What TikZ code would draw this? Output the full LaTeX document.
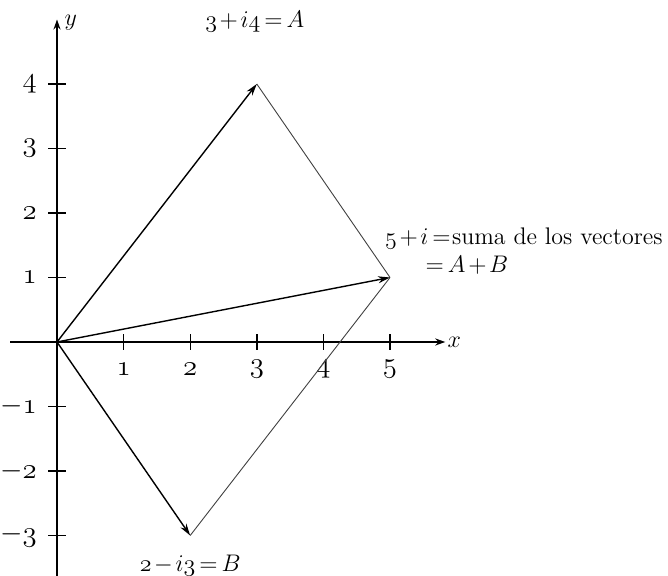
\documentclass[tikz,border=0pt]{standalone}
\usetikzlibrary{arrows.meta}
\newcommand{\tp}{\mathbin{\mkern-2mu+\mkern-2mu}}
\newcommand{\tm}{\mathbin{\mkern-2mu-\mkern-2mu}}
\newcommand{\te}{\mathrel{\mkern-2mu=\mkern-2mu}}
\begin{document}
\begin{tikzpicture}[x=33.3pt,y=32.25pt,
  axis/.style={line width=0.9pt,-{Stealth[length=5pt,width=3.5pt]}},
  vec/.style={line width=0.7pt,-{Stealth[length=6pt,width=3.5pt]}},
  side/.style={line width=0.45pt,black!75},
  tick/.style={line width=0.7pt},
  num/.style={font=\Large},
  lab/.style={font=\large}]
\useasboundingbox (-0.856,-3.628) rectangle (9.174,5.302);
% axes
\coordinate (xl) at (-0.7,0);
\coordinate (xr) at (5.83,0);
\coordinate (yb) at (0,-3.7);
\coordinate (yt) at (0,5.0);
\draw[axis] (xl) -- (xr);
\draw[axis] (yb) -- (yt);
\node[lab,anchor=west,inner sep=1pt] (xlab) at (xr) {$x$};
\node[lab,anchor=west,inner sep=1pt] (ylab) at (0.08,4.95) {$y$};
% ticks
\foreach \i in {1,...,5}{
  \draw[tick] (\i,-0.12) -- (\i,0.12);
  \node[num] (xn\i) at (\i,-0.42) {$\mathnormal{\i}$};
}
\foreach \j in {-3,-2,-1,1,2,3,4}{
  \draw[tick] (-0.13,\j) -- (0.13,\j);
}
\foreach \j in {1,2,3,4}{
  \node[num,anchor=east] (yn\j) at (-0.2,\j) {$\mathnormal{\j}$};
}
\foreach \j in {1,2,3}{
  \node[num,anchor=east] (ynm\j) at (-0.2,-\j) {$-\mathnormal{\j}$};
}
% points
\coordinate (O) at (0,0);
\coordinate (A) at (3,4);
\coordinate (B) at (2,-3);
\coordinate (S) at (5,1);
% parallelogram sides
\draw[side] (A) -- (S);
\draw[side] (B) -- (S);
% vectors
\draw[vec] (O) -- (A);
\draw[vec] (O) -- (B);
\draw[vec] (O) -- (S);
% labels
\node[lab] (la) at (2.97,4.96) {$\mathnormal{3}\tp i\mathnormal{4}\te A$};
\node[lab,anchor=west,inner sep=0pt] (ls1) at (4.92,1.61) {$\mathnormal{5}\tp i\te\,$suma de los vectores};
\node[lab,anchor=west,inner sep=0pt] (ls2) at (5.57,1.19) {$\te A\tp B$};
\node[lab] (lb) at (2.0,-3.46) {$\mathnormal{2}\tm i\mathnormal{3}\te B$};
\end{tikzpicture}
\end{document}
